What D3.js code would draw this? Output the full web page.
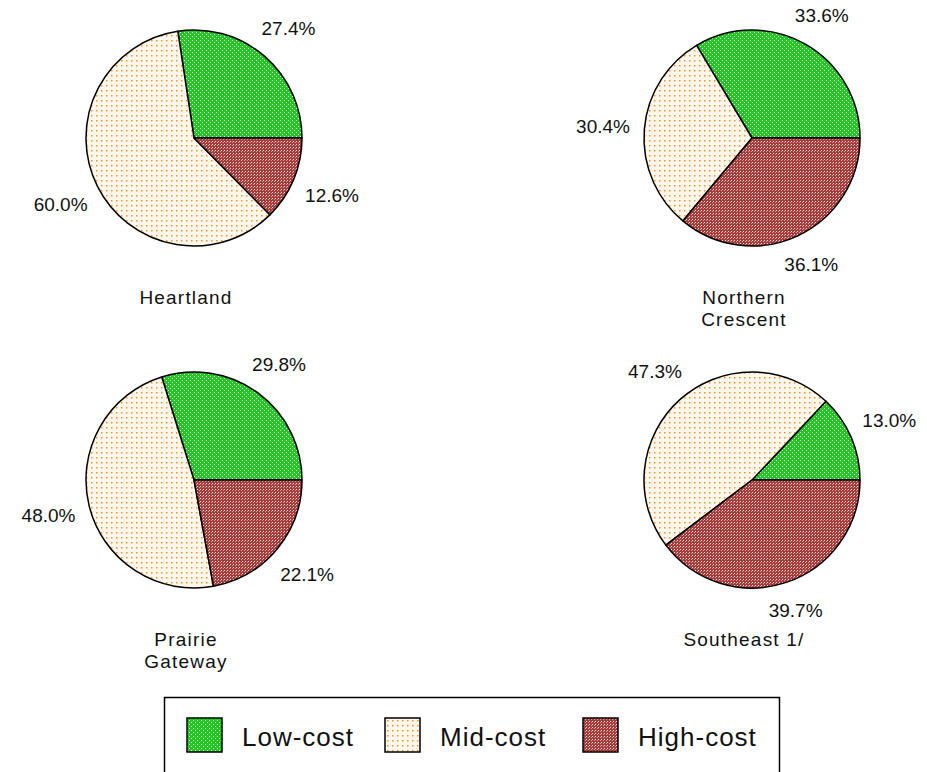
<!DOCTYPE html>
<html>
<head>
<meta charset="utf-8">
<script src="https://cdn.jsdelivr.net/npm/d3@7"></script>
<style>
  body { margin: 0; background: #fff; }
  text { font-family: "Liberation Sans", Arial, sans-serif; fill: #111; }
</style>
</head>
<body>
<div id="chart"></div>
<script>
// Cost shares by region (percent)
const regions = ["Heartland", "Northern Crescent", "Prairie Gateway", "Southeast 1/"];
const titleLines = [["Heartland"], ["Northern", "Crescent"], ["Prairie", "Gateway"], ["Southeast 1/"]];
const categories = ["Low-cost", "Mid-cost", "High-cost"];
const lowCost = [27.4, 33.6, 29.8, 13.0];
const midCost = [60.0, 30.4, 48.0, 47.3];
const highCost = [12.6, 36.1, 22.1, 39.7];

const width = 927, height = 772;
const radius = 108;

const svg = d3.select("#chart").append("svg")
  .attr("width", width)
  .attr("height", height);

// Hatch patterns like the old spreadsheet fills
const defs = svg.append("defs");

const pLow = defs.append("pattern").attr("id", "pat-low")
  .attr("patternUnits", "userSpaceOnUse").attr("width", 4).attr("height", 4);
pLow.append("rect").attr("width", 4).attr("height", 4).attr("fill", "#22c822");
pLow.append("rect").attr("x", 0).attr("y", 0).attr("width", 1).attr("height", 1).attr("fill", "#f2fff2");
pLow.append("rect").attr("x", 2).attr("y", 2).attr("width", 1).attr("height", 1).attr("fill", "#f2fff2");

const pMid = defs.append("pattern").attr("id", "pat-mid")
  .attr("patternUnits", "userSpaceOnUse").attr("width", 5).attr("height", 5);
pMid.append("rect").attr("width", 5).attr("height", 5).attr("fill", "#fff7ec");
pMid.append("rect").attr("x", 2).attr("y", 2).attr("width", 1.5).attr("height", 1.5).attr("fill", "#f0962c");

const pHigh = defs.append("pattern").attr("id", "pat-high")
  .attr("patternUnits", "userSpaceOnUse").attr("width", 3).attr("height", 3);
pHigh.append("rect").attr("width", 3).attr("height", 3).attr("fill", "#a53c3c");
pHigh.append("rect").attr("x", 0).attr("y", 0).attr("width", 1).attr("height", 1).attr("fill", "#f5dcdc");
pHigh.append("rect").attr("x", 2).attr("y", 1).attr("width", 1).attr("height", 1).attr("fill", "#d99a9a");

const fills = d3.scaleOrdinal()
  .domain(categories)
  .range(["url(#pat-low)", "url(#pat-mid)", "url(#pat-high)"]);

// Grid of pies: 2 columns x 2 rows
const xCol = d3.scalePoint().domain([0, 1]).range([194, 752]);
const yRow = d3.scalePoint().domain([0, 1]).range([138, 480]);

// Slices start at 3 o'clock and run counter-clockwise
const pie = d3.pie()
  .sort(null)
  .value(d => d.value)
  .startAngle(Math.PI / 2)
  .endAngle(Math.PI / 2 - 2 * Math.PI);

const arc = d3.arc().innerRadius(0).outerRadius(radius);

regions.forEach((region, i) => {
  const cx = xCol(i % 2), cy = yRow(Math.floor(i / 2));
  const values = [lowCost[i], midCost[i], highCost[i]];
  const slices = pie(categories.map((c, j) => ({ cat: c, value: values[j] })));

  const g = svg.append("g").attr("transform", `translate(${cx},${cy})`);

  g.selectAll("path")
    .data(slices)
    .join("path")
    .attr("d", arc)
    .attr("fill", d => fills(d.data.cat))
    .attr("stroke", "#000")
    .attr("stroke-width", 1.5)
    .attr("stroke-linejoin", "round");

  // Percent labels outside the pie, pushed out by half their box
  slices.forEach(d => {
    const mid = (d.startAngle + d.endAngle) / 2;
    const ux = Math.sin(mid), uy = -Math.cos(mid);
    const t = g.append("text")
      .attr("text-anchor", "middle")
      .attr("dominant-baseline", "central")
      .style("font-size", "19px")
      .text(d.data.value.toFixed(1) + "%");
    const bb = t.node().getBBox();
    const dist = radius + 14 + Math.abs(ux) * bb.width / 2 + Math.abs(uy) * 7;
    t.attr("x", ux * dist).attr("y", uy * dist);
  });

  // Region title under the pie
  g.append("text")
    .attr("text-anchor", "middle")
    .attr("x", -8)
    .attr("y", 166)
    .style("font-size", "19px")
    .style("letter-spacing", "1.2px")
    .selectAll("tspan")
    .data(titleLines[i])
    .join("tspan")
    .attr("x", -8)
    .attr("dy", (d, k) => k === 0 ? 0 : 22)
    .text(d => d);
});

// Legend box
svg.append("rect")
  .attr("x", 164.5)
  .attr("y", 697.5)
  .attr("width", 615)
  .attr("height", 90)
  .attr("fill", "#fff")
  .attr("stroke", "#000")
  .attr("stroke-width", 1.5);

const xLeg = d3.scalePoint().domain(categories).range([187, 583]);

const leg = svg.selectAll(".leg")
  .data(categories)
  .join("g")
  .attr("class", "leg")
  .attr("transform", d => `translate(${xLeg(d)},718)`);

leg.append("rect")
  .attr("width", 35)
  .attr("height", 34)
  .attr("fill", d => fills(d))
  .attr("stroke", "#000")
  .attr("stroke-width", 1.5);

leg.append("text")
  .attr("x", 55)
  .attr("y", 28)
  .style("font-size", "26px")
  .style("letter-spacing", "1px")
  .text(d => d);
</script>
</body>
</html>
